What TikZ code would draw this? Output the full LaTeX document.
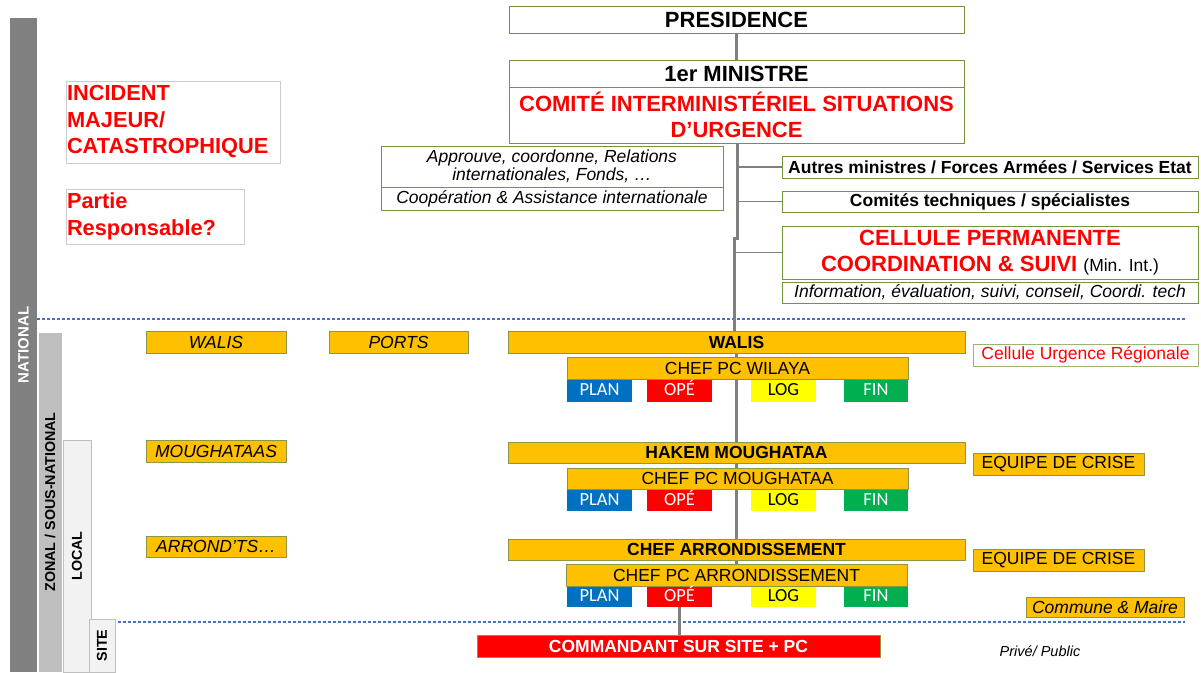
\documentclass[tikz,border=0pt]{standalone}
\usepackage{fontspec}
\setmainfont{Liberation Sans}
\newfontfamily\calibri{Carlito}
\usetikzlibrary{backgrounds}

\definecolor{olivebd}{RGB}{118,146,60}
\definecolor{goldbd}{RGB}{140,150,70}
\definecolor{gold}{RGB}{255,192,0}
\definecolor{planblue}{RGB}{0,112,192}
\definecolor{opered}{RGB}{255,0,0}
\definecolor{logyellow}{RGB}{255,255,0}
\definecolor{fingreen}{RGB}{0,176,80}
\definecolor{dotblue}{RGB}{68,114,196}
\definecolor{spinegray}{RGB}{128,128,128}
\definecolor{natgray}{RGB}{128,128,128}
\definecolor{zongray}{RGB}{191,191,191}
\definecolor{locgray}{RGB}{242,242,242}

\tikzset{
  topbox/.style={draw=olivebd, line width=1pt, fill=white, inner sep=0pt, align=center},
  goldbox/.style={draw=goldbd, line width=1pt, fill=gold, inner sep=0pt, align=center},
  redbox/.style={draw=black!20, line width=1pt, fill=white, inner sep=1pt, align=left,
    text=red, font=\bfseries\fontsize{21.8}{26.5}\selectfont},
  cell/.style={inner sep=0pt, minimum width=65, text height=12, text depth=3,
    font=\calibri\fontsize{18.5}{20}\selectfont},
  bar/.style={rotate=90, inner sep=0pt, font=\bfseries\fontsize{14.3}{16}\selectfont},
  spine/.style={draw=spinegray, line width=3pt},
  branch/.style={draw=spinegray, line width=1.2pt},
  level/.style={draw=dotblue, line width=2.5pt, dash pattern=on 2.5pt off 2.5pt},
  big/.style={font=\bfseries\fontsize{22}{26}\selectfont},
  mid/.style={font=\bfseries\fontsize{17.5}{20}\selectfont},
  midit/.style={font=\itshape\fontsize{17.5}{18.5}\selectfont},
  midrm/.style={font=\fontsize{17.5}{20}\selectfont},
}

\begin{document}
\begin{tikzpicture}[x=1pt,y=-1pt]
        \useasboundingbox (0,0) rectangle (1201,672);

        % the level bars on the left
        \node[bar, fill=natgray, text=white, minimum width=654, minimum height=27,
              font=\bfseries\fontsize{15}{17}\selectfont] (natbar) at (23.5,345) {NATIONAL};
        \node[bar, fill=zongray, draw=white, minimum width=340, minimum height=24] (zonbar) at (50,502) {ZONAL~/~SOUS-NATIONAL};
        \node[bar, fill=locgray, draw=black!25, minimum width=232, minimum height=28] (locbar) at (77,556) {LOCAL};

        % incident boxes
        \node[redbox, text width=212, minimum height=82] (incident) at (173,122) {INCIDENT\\MAJEUR/\\CATASTROPHIQUE};
        \node[redbox, text width=176, minimum height=55, font=\bfseries\fontsize{21.8}{27.5}\selectfont] (partie) at (155,216.5) {Partie\\Responsable?};

        % the national chain
        \node[topbox, big, minimum width=455, minimum height=27] (pres) at (736.5,19.5) {PRESIDENCE};
        \node[topbox, big, minimum width=455, minimum height=27] (prem) at (736.5,73.5) {1er MINISTRE};
        \node[topbox, big, text=red, minimum width=455, minimum height=56] (comite) at (736.5,115) {COMITÉ INTERMINISTÉRIEL SITUATIONS\\D’URGENCE};
        \node[topbox, midit, minimum width=342, minimum height=41] (approuve) at (552,166.5) {Approuve, coordonne, Relations\\internationales, Fonds, …};
        \node[topbox, midit, minimum width=342, minimum height=23] (coop) at (552,198.5) {Coopération \& Assistance internationale};

        % the boxes hanging on the right
        \node[topbox, mid, minimum width=416, minimum height=22] (autres) at (990,167) {Autres ministres / Forces Armées / Services Etat};
        \node[topbox, mid, minimum width=416, minimum height=21] (comites) at (990,201.5) {Comités techniques / spécialistes};
        \node[topbox, big, minimum width=416, minimum height=53] (cellule) at (990,252.5)
             {\textcolor{red}{CELLULE PERMANENTE}\\\textcolor{red}{COORDINATION \& SUIVI} {\mdseries\fontsize{17.5}{26}\selectfont (Min. Int.)}};
        \node[topbox, midit, minimum width=416, minimum height=21] (info) at (990,292.5) {Information, évaluation, suivi, conseil, Coordi. tech};

        % left column of the lower levels
        \node[goldbox, midit, minimum width=140, minimum height=22] (walisl) at (216,342) {WALIS};
        \node[goldbox, midit, minimum width=139, minimum height=22] (ports) at (398.5,342) {PORTS};
        \node[goldbox, midit, minimum width=140, minimum height=22] (moughl) at (216,451) {MOUGHATAAS};
        \node[goldbox, midit, minimum width=140, minimum height=21] (arrl) at (216,546.5) {ARROND’TS…};

        % the three command posts
        \node[goldbox, mid, minimum width=457, minimum height=22] (walis) at (736.5,342) {WALIS};
        \node[goldbox, midrm, minimum width=341, minimum height=22] (cpcw) at (737.5,368) {CHEF PC WILAYA};
        \node[goldbox, mid, minimum width=457, minimum height=21] (hakem) at (736.5,452.5) {HAKEM MOUGHATAA};
        \node[goldbox, midrm, minimum width=341, minimum height=21] (cpcm) at (737.5,478.5) {CHEF PC MOUGHATAA};
        \node[goldbox, mid, minimum width=457, minimum height=21] (carr) at (736.5,549.5) {CHEF ARRONDISSEMENT};
        \node[goldbox, midrm, minimum width=341, minimum height=22] (cpca) at (736.5,575) {CHEF PC ARRONDISSEMENT};

        \foreach \r/\y/\h in {1/391/22, 2/500.5/21, 3/597/20} {
                \node[cell, fill=planblue, text=white, minimum height=\h] (plan\r) at (599.5,\y) {PLAN};
                \node[cell, fill=opered, text=white, minimum height=\h] (ope\r) at (679.5,\y) {OPÉ};
                \node[cell, fill=logyellow, minimum height=\h] (log\r) at (783.5,\y) {LOG};
                \node[cell, fill=fingreen, text=white, minimum height=\h, minimum width=64] (fin\r) at (876,\y) {FIN};
        }

        % the right column of the lower levels
        \node[topbox, midrm, text=red, draw=olivebd!70, minimum width=225, minimum height=22] (cur) at (1085.5,355) {Cellule Urgence Régionale};
        \node[goldbox, midrm, minimum width=171, minimum height=22] (equipe1) at (1058.5,464) {EQUIPE DE CRISE};
        \node[goldbox, midrm, minimum width=171, minimum height=22] (equipe2) at (1058.5,560) {EQUIPE DE CRISE};
        \node[goldbox, midit, minimum width=158, minimum height=20] (commune) at (1105,607) {Commune \& Maire};

        % the site
        \node[bar, fill=locgray, draw=black!25, minimum width=53, minimum height=26] (sitebar) at (102,645.5) {SITE};
        \node[goldbox, mid, fill=opered, text=white, minimum width=403, minimum height=22] (cmd) at (678.5,646) {COMMANDANT SUR SITE + PC};
        \node[font=\itshape\fontsize{14.5}{16}\selectfont, inner sep=0pt] (prive) at (1040,651) {Privé/ Public};

        % connectors and level lines behind the boxes
        \coordinate (lvl1w) at (37,319);
        \coordinate (lvl1e) at (1185,319);
        \coordinate (lvl2w) at (63,622);
        \coordinate (lvl2e) at (1185,622);
        \coordinate (spa) at (737,240);
        \coordinate (spb) at (734.5,237);
        \begin{scope}[on background layer]
                \draw[level] (lvl1w) -- (lvl1e);
                \draw[level] (lvl2w) -- (lvl2e);
                \draw[spine] (pres) -- (prem);
                \draw[spine] (prem.center -| spa) -- (spa);
                \draw[spine] (spb) -- (spb |- walis.center);
                \draw[spine] (walis.center) -- (cpca.center);
                \draw[spine] (ope3.center) -- (ope3.center |- cmd.center);
                \draw[branch] (spa |- autres.west) -- (autres.west);
                \draw[branch] (spa |- comites.west) -- (comites.west);
                \draw[branch] (spb |- cellule.west) -- (cellule.west);
        \end{scope}
\end{tikzpicture}
\end{document}
